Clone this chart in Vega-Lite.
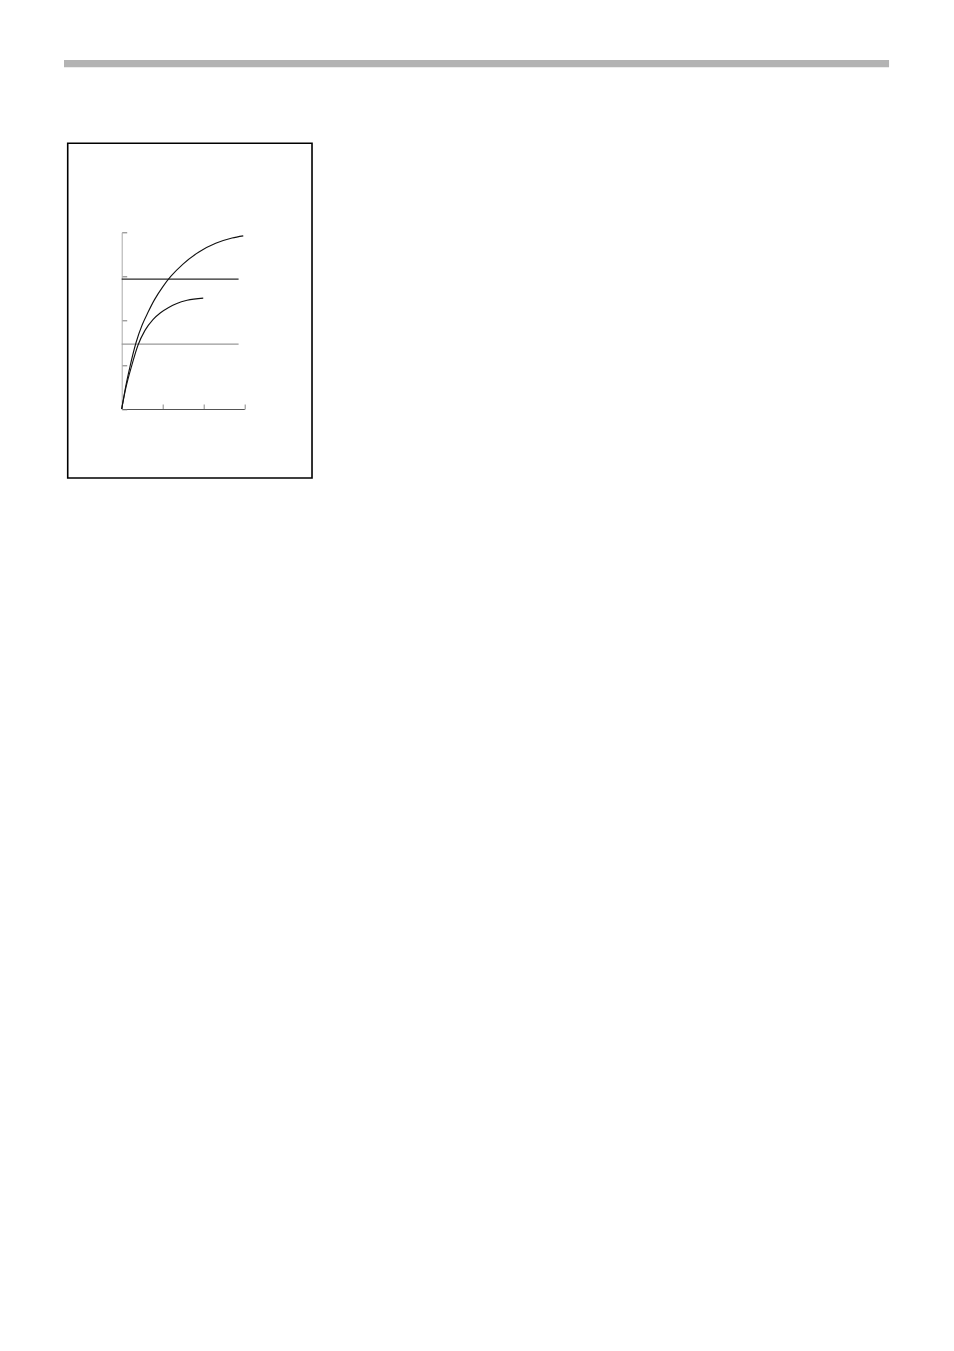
{
  "$schema": "https://vega.github.io/schema/vega-lite/v6.json",
  "autosize": {"type": "none"},
  "padding": {"left": 121.7, "top": 232.3, "right": 709.7, "bottom": 942},
  "width": 122.6,
  "height": 176.7,
  "background": "white",
  "config": {"view": {"stroke": null}},
  "datasets": {
    "decor": [
      {"part": "bar", "x": -1.412, "x2": 18.777, "y": 7.9, "y2": 7.735},
      {"part": "box", "x": -1.321, "x2": 4.657, "y": 6.015, "y2": -1.562}
    ],
    "levels": [
      {"level": "upper", "x": 0, "x2": 2.86, "y": 2.94},
      {"level": "lower", "x": 0, "x2": 2.86, "y": 1.47}
    ],
    "curves": [
      {"series": "A", "x": 0, "y": 0},
      {"series": "A", "x": 0.1, "y": 0.52},
      {"series": "A", "x": 0.2, "y": 0.95},
      {"series": "A", "x": 0.35, "y": 1.5},
      {"series": "A", "x": 0.5, "y": 1.9},
      {"series": "A", "x": 0.65, "y": 2.2},
      {"series": "A", "x": 0.8, "y": 2.47},
      {"series": "A", "x": 1.0, "y": 2.76},
      {"series": "A", "x": 1.2, "y": 3.0},
      {"series": "A", "x": 1.5, "y": 3.28},
      {"series": "A", "x": 1.9, "y": 3.56},
      {"series": "A", "x": 2.3, "y": 3.75},
      {"series": "A", "x": 2.7, "y": 3.87},
      {"series": "A", "x": 2.975, "y": 3.92},
      {"series": "B", "x": 0, "y": 0},
      {"series": "B", "x": 0.1, "y": 0.47},
      {"series": "B", "x": 0.25, "y": 1.0},
      {"series": "B", "x": 0.4, "y": 1.45},
      {"series": "B", "x": 0.57, "y": 1.78},
      {"series": "B", "x": 0.77, "y": 2.03},
      {"series": "B", "x": 0.95, "y": 2.18},
      {"series": "B", "x": 1.15, "y": 2.3},
      {"series": "B", "x": 1.35, "y": 2.39},
      {"series": "B", "x": 1.6, "y": 2.46},
      {"series": "B", "x": 1.995, "y": 2.51}
    ]
  },
  "encoding": {
    "x": {
      "field": "x",
      "type": "quantitative",
      "scale": {"domain": [0, 3], "nice": false, "zero": false},
      "axis": {
        "title": null,
        "values": [0, 1, 2, 3],
        "labels": false,
        "grid": false,
        "domainColor": "#555555",
        "domainWidth": 1,
        "tickColor": "#888888",
        "tickSize": -5,
        "tickWidth": 1
      }
    },
    "y": {
      "field": "y",
      "type": "quantitative",
      "scale": {"domain": [0, 4], "nice": false, "zero": false},
      "axis": {
        "title": null,
        "values": [0, 1, 2, 3, 4],
        "labels": false,
        "grid": false,
        "domainColor": "#aaaaaa",
        "domainWidth": 1,
        "tickColor": "#777777",
        "tickSize": -5,
        "tickWidth": 1
      }
    }
  },
  "layer": [
    {
      "data": {"name": "decor"},
      "transform": [{"filter": "datum.part === 'bar'"}],
      "mark": {"type": "rect", "fill": "#b3b3b3", "clip": false},
      "encoding": {"x2": {"field": "x2"}, "y2": {"field": "y2"}}
    },
    {
      "data": {"name": "decor"},
      "transform": [{"filter": "datum.part === 'box'"}],
      "mark": {"type": "rect", "fill": null, "fillOpacity": 0, "stroke": "#000000", "strokeWidth": 1.6, "clip": false},
      "encoding": {"x2": {"field": "x2"}, "y2": {"field": "y2"}}
    },
    {
      "data": {"name": "levels"},
      "mark": {"type": "rule", "strokeWidth": 1.3},
      "encoding": {
        "x2": {"field": "x2"},
        "color": {
          "field": "level",
          "type": "nominal",
          "scale": {"domain": ["upper", "lower"], "range": ["#2a2a2a", "#999999"]},
          "legend": null
        }
      }
    },
    {
      "data": {"name": "curves"},
      "mark": {"type": "line", "interpolate": "monotone", "color": "#111111", "strokeWidth": 1.1},
      "encoding": {"detail": {"field": "series", "type": "nominal"}}
    }
  ]
}
